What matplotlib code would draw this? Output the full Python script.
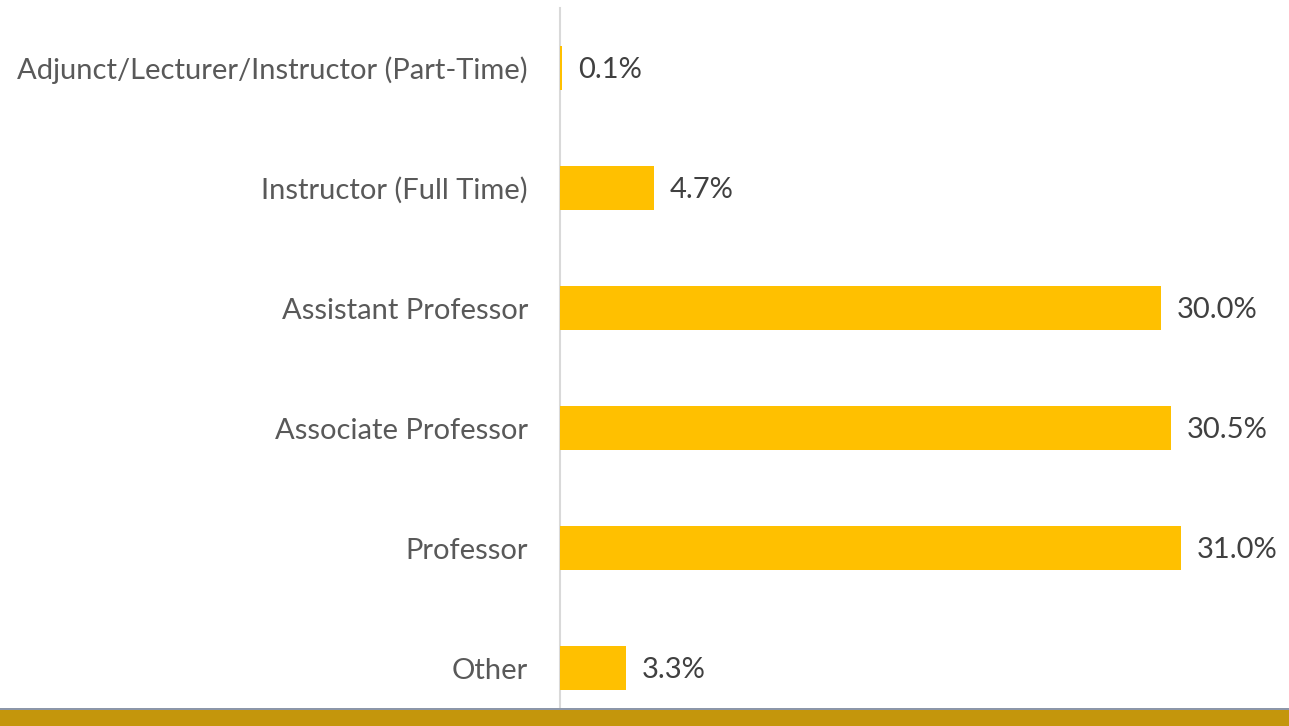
import matplotlib.pyplot as plt
from matplotlib.patches import Rectangle

categories = ['Adjunct/Lecturer/Instructor (Part-Time)', 'Instructor (Full Time)',
              'Assistant Professor', 'Associate Professor', 'Professor', 'Other']
values = [0.1, 4.7, 30.0, 30.5, 31.0, 3.3]

plt.rcParams['font.family'] = ['Lato', 'DejaVu Sans']

fig = plt.figure(figsize=(12.89, 7.26), dpi=100)
# bottom band
fig.patches.append(Rectangle((0, 16 / 726), 1, 2 / 726, transform=fig.transFigure,
                             facecolor='#8C96A8', edgecolor='none', zorder=0))
fig.patches.append(Rectangle((0, 0), 1, 16 / 726, transform=fig.transFigure,
                             facecolor='#C4960C', edgecolor='none', zorder=0))

ax = fig.add_axes([560 / 1289, 0, 1 - 560 / 1289, 718 / 726])
ax.set_facecolor('none')
y = list(range(len(categories)))
ax.barh(y, values, height=0.367, color='#FFC000', zorder=3)
for yi, v in zip(y, values):
    ax.text(v + 0.8, yi + 0.02, f'{v:.1f}%', va='center', ha='left', fontsize=21, color='#404040')

ax.set_xlim(0, 36.4)
ax.set_ylim(5.483, -0.5)
ax.set_yticks(y)
ax.set_yticklabels(categories, fontsize=21, color='#595959')
ax.tick_params(axis='y', length=0, pad=23)
ax.set_xticks([])
for s in ['top', 'right', 'bottom']:
    ax.spines[s].set_visible(False)
ax.spines['left'].set_color('#D9D9D9')
ax.spines['left'].set_linewidth(1.5)

fig.savefig('out.png', dpi=100)
